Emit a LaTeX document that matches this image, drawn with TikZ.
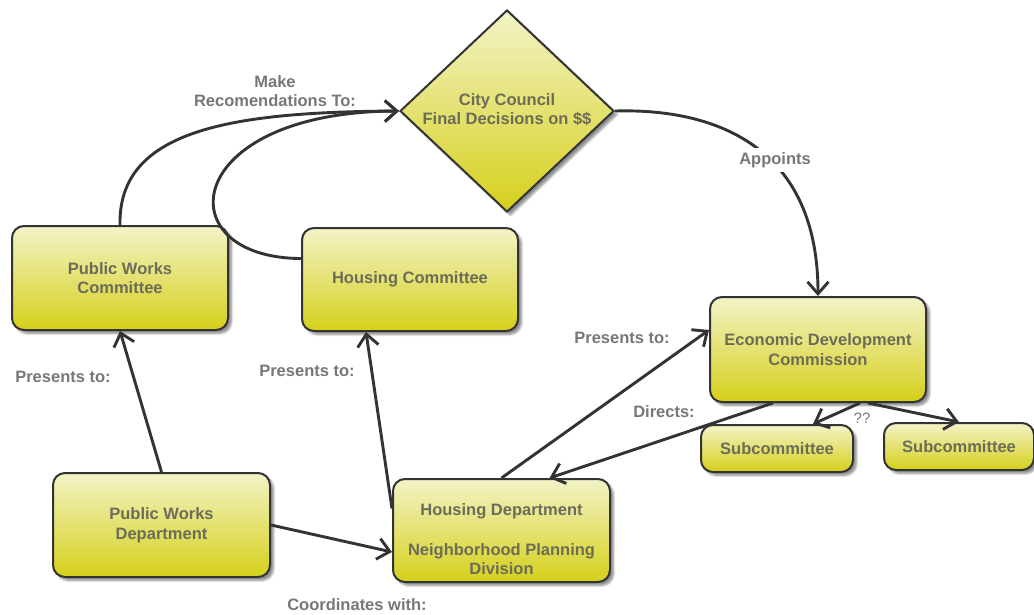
\documentclass[tikz,border=0pt]{standalone}
\usepackage{fontspec}
\setmainfont{Liberation Sans}
\usetikzlibrary{arrows.meta,shapes.geometric,shadows.blur}
\definecolor{boxtop}{HTML}{F3F3C8}
\definecolor{boxmid}{HTML}{E9E680}
\definecolor{boxbot}{HTML}{D5D01A}
\definecolor{edgecol}{HTML}{333333}
\definecolor{nodetext}{HTML}{6C6C58}
\definecolor{labeltext}{HTML}{777777}
\tikzset{
  box/.style={draw=edgecol, line width=2pt, rounded corners=12pt,
    top color=boxtop, middle color=boxmid, bottom color=boxbot,
    blur shadow={shadow xshift=3.5pt, shadow yshift=-3.5pt, shadow blur steps=6, shadow opacity=45},
    align=center, inner sep=0pt, text=nodetext,
    font=\fontsize{16.5}{19.5}\selectfont\bfseries},
  diam/.style={draw=edgecol, line width=2pt, diamond, inner sep=0pt,
    top color=boxtop, middle color=boxmid, bottom color=boxbot,
    blur shadow={shadow xshift=3.5pt, shadow yshift=-3.5pt, shadow blur steps=6, shadow opacity=45}},
  boxtext/.style={align=center, inner sep=0pt, text=nodetext,
    font=\fontsize{16.5}{19.5}\selectfont\bfseries},
  lbl/.style={align=center, inner sep=1pt, text=labeltext,
    font=\fontsize{16.5}{19}\selectfont\bfseries},
  conn/.style={draw=edgecol, line width=2.9pt,
    -{Straight Barb[length=12pt,width=21pt,line width=2.9pt]}},
}
\begin{document}
\begin{tikzpicture}[x=1pt,y=-1pt]
\useasboundingbox (0,0) rectangle (1034,614);

% nodes
\node[box, minimum width=216pt, minimum height=104pt] (pwc) at (120,278) {Public Works\\Committee};
\node[box, minimum width=216pt, minimum height=103pt] (hc) at (410,279.5) {Housing Committee};
\node[diam, minimum width=214pt, minimum height=202pt] (cc) at (507,111) {};
\node[boxtext] (cctext) at (507,109.5) {City Council\\Final Decisions on \$\$};
\node[box, minimum width=216pt, minimum height=105pt] (edc) at (818,349.5) {Economic Development\\Commission};
\node[box, minimum width=152pt, minimum height=47pt] (sub1) at (777,448.5) {Subcommittee};
\node[box, minimum width=150pt, minimum height=47pt] (sub2) at (959,446.5) {Subcommittee};
\node[box, minimum width=217pt, minimum height=104pt] (pwd) at (161.5,525) {Public Works\\Department};
\node[box, minimum width=217pt, minimum height=103pt] (hd) at (501.5,530.5) {};
\node[boxtext] (hdtext) at (501.5,539.5) {Housing Department\\[20pt]Neighborhood Planning\\Division};

% connectors
\draw[conn] (pwc.north) .. controls (118,130) and (230,112) .. (cc.west);
\draw[conn] ([yshift=21pt]hc.west) .. controls (165,258) and (180,112) .. (cc.west);
\draw[conn] (cc.east) .. controls (720,108) and (818,150) .. (edc.north);
\draw[conn] (pwd.north) -- (pwc.south);
\draw[conn] ([yshift=22pt]hd.west) -- ([xshift=-44pt]hc.south);
\draw[conn] (pwd.east) -- ([yshift=-21.5pt]hd.west);
\draw[conn] (hd.north) -- ([yshift=19.5pt]edc.west);
\draw[conn] ([xshift=-45pt]edc.south) -- ([xshift=48pt]hd.north);
\draw[conn] ([xshift=42pt]edc.south) -- ([xshift=36pt]sub1.north);
\draw[conn] ([xshift=50pt]edc.south) -- (sub2.north);

% labels
\node[lbl] (lmake) at (275,91.5) {Make\\Recomendations To:};
\node[lbl, fill=white, inner sep=4pt] (lapp) at (775,160) {Appoints};
\node[lbl] (lpres1) at (63,377) {Presents to:};
\node[lbl] (lpres2) at (307,371) {Presents to:};
\node[lbl] (lpres3) at (622,338) {Presents to:};
\node[lbl] (ldir) at (664,412) {Directs:};
\node[lbl, font=\fontsize{15}{17}\selectfont] (lqq) at (862,418) {??};
\node[lbl] (lcoord) at (357,605) {Coordinates with:};
\end{tikzpicture}
\end{document}
